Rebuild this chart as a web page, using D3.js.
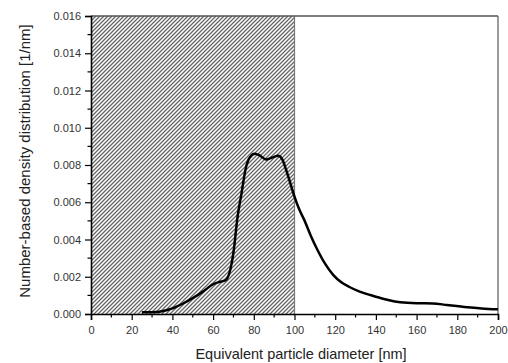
<!DOCTYPE html>
<html><head><meta charset="utf-8">
<script src="https://cdn.jsdelivr.net/npm/d3@7"></script>
<style>body{margin:0;background:#fff}svg{display:block}</style>
</head><body>
<script>
const diameters = [25,30,35,40,45,50,55,60,63,66,68,70,72,74,76,78,80.5,83,86,89,92,94,96,98,100,102,105,108,111,115,119,123,127,132,140,146,152,160,168,175,185,192,200];
const density = [0.0001,0.0001,0.00015,0.0003,0.00055,0.00085,0.0012,0.0016,0.00172,0.0018,0.0022,0.0033,0.0052,0.0065,0.0078,0.0084,0.0086,0.0085,0.0083,0.0084,0.0085,0.0083,0.0077,0.0070,0.0063,0.0057,0.0050,0.0042,0.0035,0.0027,0.0021,0.0017,0.00145,0.0012,0.00093,0.00075,0.00063,0.00058,0.00057,0.00048,0.00036,0.0003,0.00025];
const xTicks = [0,20,40,60,80,100,120,140,160,180,200];
const yTicks = [0,0.002,0.004,0.006,0.008,0.010,0.012,0.014,0.016];
const hatchRange = [0,100];
const xTitle = "Equivalent particle diameter [nm]";
const yTitle = "Number-based density distribution [1/nm]";

const W=508,H=363;
const m={l:91,t:16,r:10,b:49};
const svg=d3.select("body").append("svg").attr("width",W).attr("height",H);
const x=d3.scaleLinear().domain([0,200]).range([m.l,W-m.r]);
const y=d3.scaleLinear().domain([0,0.016]).range([H-m.b,m.t]);

const defs=svg.append("defs");
const pat=defs.append("pattern").attr("id","hatch").attr("patternUnits","userSpaceOnUse")
  .attr("width",4).attr("height",4);
pat.append("path").attr("d","M-1,1 l2,-2 M0,4 l4,-4 M3,5 l2,-2")
  .attr("stroke","#666").attr("stroke-width",1.3);

svg.append("rect").attr("x",x(hatchRange[0])).attr("y",y(0.016))
  .attr("width",x(hatchRange[1])-x(hatchRange[0])).attr("height",y(0)-y(0.016))
  .attr("fill","url(#hatch)");
svg.append("line").attr("x1",x(hatchRange[1])).attr("x2",x(hatchRange[1]))
  .attr("y1",y(0.016)).attr("y2",y(0)).attr("stroke","#777").attr("stroke-width",1.2);

// frame top & right
svg.append("line").attr("x1",x(0)).attr("x2",x(200)).attr("y1",y(0.016)).attr("y2",y(0.016))
  .attr("stroke","#555").attr("stroke-width",1.3);
svg.append("line").attr("x1",x(200)).attr("x2",x(200)).attr("y1",y(0.016)).attr("y2",y(0))
  .attr("stroke","#666").attr("stroke-width",1.3);

// curve
const line=d3.line().x((d,i)=>x(diameters[i])).y(d=>y(d)).curve(d3.curveMonotoneX);
svg.append("path").datum(density).attr("d",line).attr("fill","none")
  .attr("stroke","#000").attr("stroke-width",2.5).attr("stroke-linejoin","round");

const font="Liberation Sans, Arial, sans-serif";
// x axis
const xMinor=d3.range(10,200,20);
const gx=svg.append("g").attr("transform",`translate(0,${y(0)})`);
gx.call(d3.axisBottom(x).tickValues(xTicks).tickSize(6).tickPadding(6).tickFormat(d3.format("d")));
gx.call(g=>g.select(".domain").attr("stroke","#000").attr("stroke-width",1.6));
gx.selectAll(".tick line").attr("stroke","#000").attr("stroke-width",1.2);
gx.selectAll("text").attr("font-family",font).attr("font-size",11).attr("fill","#333");
gx.selectAll(".minor").data(xMinor).enter().append("line").attr("class","minor")
  .attr("x1",d=>x(d)).attr("x2",d=>x(d)).attr("y1",0).attr("y2",3.5).attr("stroke","#000").attr("stroke-width",1.2);

// y axis
const yMinor=d3.range(0.001,0.016,0.002);
const gy=svg.append("g").attr("transform",`translate(${x(0)},0)`);
gy.call(d3.axisLeft(y).tickValues(yTicks).tickSize(6).tickPadding(4).tickFormat(d3.format(".3f")));
gy.call(g=>g.select(".domain").attr("stroke","#000").attr("stroke-width",1.6));
gy.selectAll(".tick line").attr("stroke","#000").attr("stroke-width",1.2);
gy.selectAll("text").attr("font-family",font).attr("font-size",11).attr("fill","#333");
gy.selectAll(".minor").data(yMinor).enter().append("line").attr("class","minor")
  .attr("y1",d=>y(d)).attr("y2",d=>y(d)).attr("x1",0).attr("x2",-3.5).attr("stroke","#000").attr("stroke-width",1.2);

svg.append("text").attr("x",301).attr("y",359).attr("text-anchor","middle")
  .attr("font-family",font).attr("font-size",14.5).attr("fill","#222").text(xTitle);
svg.append("text").attr("transform",`translate(30,161) rotate(-90)`)
  .attr("text-anchor","middle").attr("font-family",font).attr("font-size",15).attr("fill","#222").text(yTitle);
</script>
</body></html>
